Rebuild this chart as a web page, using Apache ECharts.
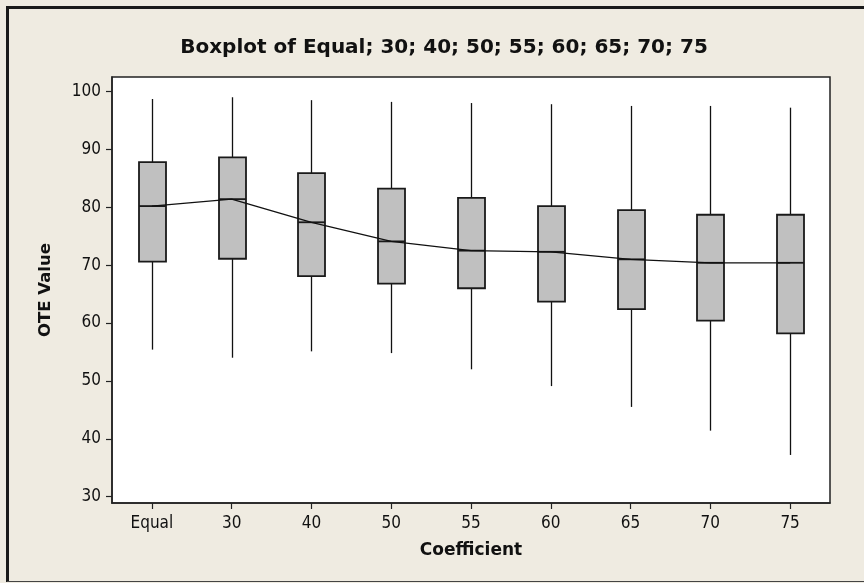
<!DOCTYPE html>
<html>
<head>
<meta charset="utf-8">
<script src="https://cdn.jsdelivr.net/npm/echarts@6/dist/echarts.min.js"></script>
<style>
html,body{margin:0;padding:0;background:#EFEBE1;}
#chart{width:864px;height:583px;}
</style>
</head>
<body>
<div id="chart"></div>
<script>
const categories = ['Equal', '30', '40', '50', '55', '60', '65', '70', '75'];
const whiskerLow = [55.4, 54.0, 55.1, 54.8, 52.0, 49.1, 45.5, 41.4, 37.2];
const q1Values   = [70.6, 71.1, 68.1, 66.8, 66.0, 63.7, 62.4, 60.4, 58.2];
const medians    = [80.2, 81.4, 77.4, 74.1, 72.5, 72.3, 71.0, 70.4, 70.4];
const q3Values   = [87.8, 88.6, 85.9, 83.2, 81.6, 80.2, 79.5, 78.7, 78.7];
const whiskerHigh= [98.7, 99.0, 98.5, 98.2, 98.0, 97.8, 97.5, 97.5, 97.2];
const yTicks = [30, 40, 50, 60, 70, 80, 90, 100];

const FONT = '"DejaVu Sans Condensed", "DejaVu Sans", sans-serif';
const BOLD = '"DejaVu Sans", sans-serif';
const chart = echarts.init(document.getElementById('chart'));

const boxData = categories.map((c, i) => [i, whiskerLow[i], q1Values[i], medians[i], q3Values[i], whiskerHigh[i]]);

chart.setOption({
  backgroundColor: '#EFEBE1',
  animation: false,
  title: {
    text: 'Boxplot of Equal; 30; 40; 50; 55; 60; 65; 70; 75',
    left: 439, top: 33, textAlign: 'center',
    textStyle: { fontFamily: BOLD, fontWeight: 'bold', fontSize: 20, color: '#111' }
  },
  graphic: [
    { type: 'line', silent: true, shape: { x1: 7.5, y1: 7.5, x2: 864, y2: 7.5 }, style: { stroke: '#1a1a1a', lineWidth: 3 } },
    { type: 'line', silent: true, shape: { x1: 7.5, y1: 6, x2: 7.5, y2: 582 }, style: { stroke: '#1a1a1a', lineWidth: 3 } },
    { type: 'line', silent: true, shape: { x1: 7, y1: 581.5, x2: 864, y2: 581.5 }, style: { stroke: '#444', lineWidth: 1.2 } }
  ],
  grid: {
    left: 112, right: 34, top: 77, bottom: 80,
    show: true, backgroundColor: '#ffffff', borderColor: '#222', borderWidth: 1.5
  },
  xAxis: {
    type: 'category', data: categories, boundaryGap: true,
    name: 'Coefficient', nameLocation: 'middle', nameGap: 39,
    nameTextStyle: { fontFamily: BOLD, fontWeight: 'bold', fontSize: 17, color: '#111' },
    axisLine: { show: true, lineStyle: { color: '#222', width: 1.5 } },
    axisTick: { show: true, alignWithLabel: true, length: 6, lineStyle: { color: '#222', width: 1.2 } },
    axisLabel: { fontFamily: FONT, fontSize: 17, color: '#111', margin: 12 },
    splitLine: { show: false }
  },
  yAxis: {
    type: 'value', min: 28.9, max: 102.5,
    name: 'OTE Value', nameLocation: 'middle', nameGap: 58, nameRotate: 90,
    nameTextStyle: { fontFamily: BOLD, fontWeight: 'bold', fontSize: 16.5, color: '#111' },
    axisLine: { show: true, lineStyle: { color: '#222', width: 1.5 } },
    axisTick: { show: true, length: 6, customValues: yTicks, lineStyle: { color: '#222', width: 1.2 } },
    axisLabel: { fontFamily: FONT, fontSize: 17, color: '#111', margin: 11, customValues: yTicks },
    splitLine: { show: false }
  },
  series: [
    {
      type: 'custom',
      data: boxData,
      encode: { x: 0, y: [1, 2, 3, 4, 5] },
      z: 2,
      renderItem: function (params, api) {
        const x = api.value(0);
        const pLow = api.coord([x, api.value(1)]);
        const pQ1 = api.coord([x, api.value(2)]);
        const pMed = api.coord([x, api.value(3)]);
        const pQ3 = api.coord([x, api.value(4)]);
        const pHigh = api.coord([x, api.value(5)]);
        const bw = 27;
        const cx = Math.round(pMed[0]) + 0.5;
        return {
          type: 'group',
          children: [
            { type: 'line', shape: { x1: cx, y1: pHigh[1], x2: cx, y2: pQ3[1] }, style: { stroke: '#111', lineWidth: 1.3 } },
            { type: 'line', shape: { x1: cx, y1: pQ1[1], x2: cx, y2: pLow[1] }, style: { stroke: '#111', lineWidth: 1.3 } },
            { type: 'rect', shape: { x: cx - bw / 2, y: pQ3[1], width: bw, height: pQ1[1] - pQ3[1] },
              style: { fill: '#C0C0C0', stroke: '#1a1a1a', lineWidth: 1.8 } },
            { type: 'line', shape: { x1: cx - bw / 2, y1: pMed[1], x2: cx + bw / 2, y2: pMed[1] }, style: { stroke: '#1a1a1a', lineWidth: 1.8 } }
          ]
        };
      }
    },
    {
      type: 'line', data: medians, z: 3,
      symbol: 'none', lineStyle: { color: '#111', width: 1.3 }
    }
  ]
});
</script>
</body>
</html>
